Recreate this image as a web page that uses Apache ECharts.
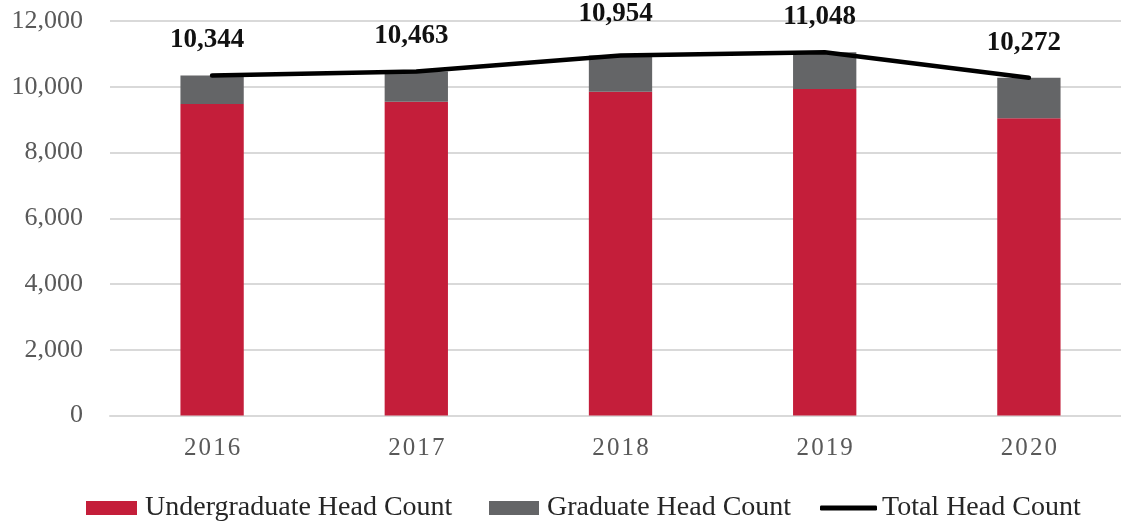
<!DOCTYPE html>
<html>
<head>
<meta charset="utf-8">
<script src="https://cdn.jsdelivr.net/npm/echarts@6/dist/echarts.min.js"></script>
<style>html,body{margin:0;padding:0;background:#fff;}#c{width:1121px;height:521px;}</style>
</head>
<body>
<div id="c"></div>
<script>
const years = ['2016', '2017', '2018', '2019', '2020'];
const undergrad = [9475, 9545, 9850, 9930, 9040];
const graduate = [869, 918, 1104, 1118, 1232];
const total = [10344, 10463, 10954, 11048, 10272];
const yTicks = [0, 2000, 4000, 6000, 8000, 10000, 12000];

const fmt = v => String(v).replace(/\B(?=(\d{3})+(?!\d))/g, ',');
const FONT = '"Liberation Serif", "DejaVu Serif", serif';
const legendText = {color: '#262626', fontFamily: FONT, fontSize: 28, padding: [0, 0, 0, 3]};

const chart = echarts.init(document.getElementById('c'), null, {renderer: 'canvas'});
chart.setOption({
  animation: false,
  backgroundColor: '#fff',
  grid: {left: 110, width: 1021, top: 21, bottom: 105.5, containLabel: false, outerBoundsMode: 'none'},
  xAxis: {
    type: 'category',
    data: years,
    axisLine: {show: true, lineStyle: {color: '#D9D9D9', width: 2}},
    axisTick: {show: false},
    axisLabel: {color: '#595959', fontFamily: FONT, fontSize: 25, margin: 20,
      formatter: v => v.split('').join('\u200A')}
  },
  yAxis: {
    type: 'value',
    min: yTicks[0],
    max: yTicks[yTicks.length - 1],
    interval: 2000,
    axisLine: {show: false},
    axisTick: {show: false},
    splitLine: {lineStyle: {color: '#D9D9D9', width: 2}},
    axisLabel: {color: '#595959', fontFamily: FONT, fontSize: 26, margin: 27, formatter: v => fmt(v)}
  },
  legend: [
    {
      top: 489, left: 81, itemWidth: 51, itemHeight: 14,
      textStyle: legendText,
      data: [{name: 'Undergraduate Head Count', icon: 'rect'}]
    },
    {
      top: 489, left: 484, itemWidth: 50, itemHeight: 14,
      textStyle: legendText,
      data: [{name: 'Graduate Head Count', icon: 'rect'}]
    },
    {
      top: 489, left: 815, itemWidth: 57, itemHeight: 5,
      textStyle: Object.assign({}, legendText, {padding: [0, 0, 0, 0]}),
      data: [{name: 'Total Head Count', icon: 'roundRect'}]
    }
  ],
  series: [
    {
      name: 'Undergraduate Head Count', type: 'bar', stack: 'hc', data: undergrad,
      barWidth: '31%', itemStyle: {color: '#C41E3A'}
    },
    {
      name: 'Graduate Head Count', type: 'bar', stack: 'hc', data: graduate,
      barWidth: '31%', itemStyle: {color: '#646567'}
    },
    {
      name: 'Total Head Count', type: 'line',
      data: total.map((v, i) => i === 2 ? {value: v, label: {distance: 27}} : v),
      symbol: 'circle', symbolSize: 1, showSymbol: true,
      lineStyle: {color: '#000', width: 4.5, cap: 'round', join: 'round'},
      itemStyle: {color: '#000'},
      label: {
        show: true, position: 'top', distance: 21, offset: [-5, 0],
        color: '#111', fontFamily: FONT, fontSize: 27, fontWeight: 'bold',
        formatter: p => fmt(p.value)
      },
      z: 5
    }
  ]
});
</script>
</body>
</html>
